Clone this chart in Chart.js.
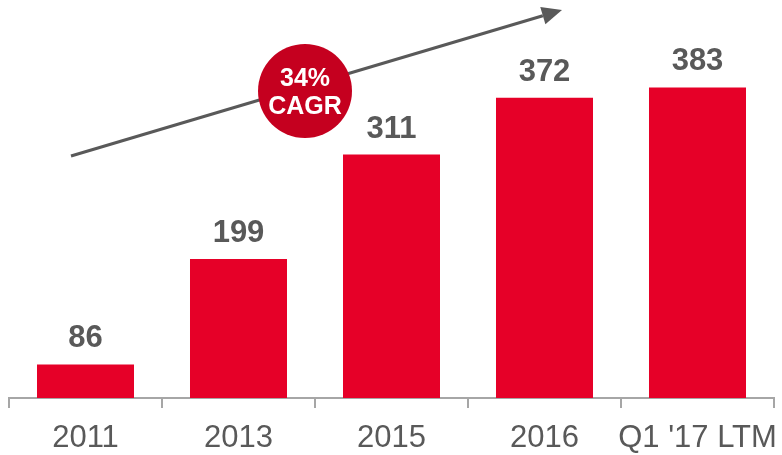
<!DOCTYPE html>
<html>
<head>
<meta charset="utf-8">
<script src="https://cdn.jsdelivr.net/npm/chart.js@4"></script>
<style>
  html, body { margin: 0; padding: 0; background: #fff; }
  #wrap { width: 782px; height: 455px; }
</style>
</head>
<body>
<div id="wrap"><canvas id="cagrChart" width="782" height="455"></canvas></div>
<script>
const categories = ["2011", "2013", "2015", "2016", "Q1 '17 LTM"];
const values = [86, 199, 311, 372, 383];
const cagrLabel = ["34%", "CAGR"];

const barRed = "#E60028";
const circleRed = "#C5001F";
const textGray = "#595959";

// value labels above each bar
const valueLabels = {
  id: "valueLabels",
  afterDatasetsDraw(chart) {
    const ctx = chart.ctx;
    const meta = chart.getDatasetMeta(0);
    ctx.save();
    ctx.fillStyle = textGray;
    ctx.font = "bold 31px 'Liberation Sans', Arial, sans-serif";
    ctx.textAlign = "center";
    ctx.textBaseline = "alphabetic";
    meta.data.forEach((bar, i) => {
      ctx.fillText(values[i], bar.x, bar.y - 17);
    });
    ctx.restore();
  }
};

// growth arrow + CAGR bubble
const cagrArrow = {
  id: "cagrArrow",
  afterDraw(chart) {
    const ctx = chart.ctx;
    const x1 = 71, y1 = 156, x2 = 562, y2 = 10;
    const ang = Math.atan2(y2 - y1, x2 - x1);
    const headLen = 20, headW = 9;
    ctx.save();
    ctx.strokeStyle = textGray;
    ctx.fillStyle = textGray;
    ctx.lineWidth = 3;
    ctx.beginPath();
    ctx.moveTo(x1, y1);
    ctx.lineTo(x2 - headLen * Math.cos(ang), y2 - headLen * Math.sin(ang));
    ctx.stroke();
    const bx = x2 - headLen * Math.cos(ang), by = y2 - headLen * Math.sin(ang);
    ctx.beginPath();
    ctx.moveTo(x2, y2);
    ctx.lineTo(bx + headW * Math.sin(ang), by - headW * Math.cos(ang));
    ctx.lineTo(bx - headW * Math.sin(ang), by + headW * Math.cos(ang));
    ctx.closePath();
    ctx.fill();

    ctx.fillStyle = circleRed;
    ctx.beginPath();
    ctx.arc(305, 91, 47, 0, Math.PI * 2);
    ctx.fill();
    ctx.fillStyle = "#fff";
    ctx.font = "bold 25px 'Liberation Sans', Arial, sans-serif";
    ctx.textAlign = "center";
    ctx.textBaseline = "middle";
    ctx.fillText(cagrLabel[0], 305, 79);
    ctx.fillText(cagrLabel[1], 305, 107);
    ctx.restore();
  }
};

new Chart(document.getElementById("cagrChart"), {
  type: "bar",
  data: {
    labels: categories,
    datasets: [
      {
        data: values,
        backgroundColor: barRed,
        borderWidth: 0,
        categoryPercentage: 1,
        barPercentage: 0.634,
      },
    ],
  },
  options: {
    responsive: false,
    animation: false,
    layout: { padding: { left: 9, right: 8, top: 25, bottom: 0 } },
    scales: {
      y: {
        display: false,
        min: 50,
        max: 450,
      },
      x: {
        offset: true,
        afterFit(scale) {
          scale.height = 57;
          // last label overflows its slot, don't let it shrink the plot
          scale.paddingLeft = 0;
          scale.paddingRight = 0;
        },
        grid: {
          offset: true,
          drawOnChartArea: false,
          drawTicks: true,
          tickLength: 10,
          color: "#A6A6A6",
          lineWidth: 2,
        },
        border: { color: "#A6A6A6", width: 2 },
        ticks: {
          color: textGray,
          padding: 12,
          font: { size: 31, family: "'Liberation Sans', Arial, sans-serif" },
          maxRotation: 0,
          autoSkip: false,
        },
      },
    },
    plugins: {
      legend: { display: false },
      tooltip: { enabled: false },
    },
  },
  plugins: [valueLabels, cagrArrow],
});
</script>
</body>
</html>
